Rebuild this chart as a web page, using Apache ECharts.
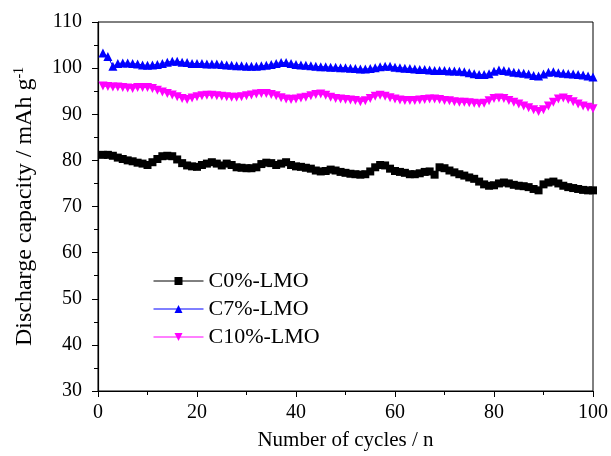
<!DOCTYPE html>
<html>
<head>
<meta charset="utf-8">
<script src="https://cdn.jsdelivr.net/npm/echarts@6/dist/echarts.min.js"></script>
<style>
  html, body { margin: 0; padding: 0; background: #fff; }
  #chart { width: 611px; height: 456px; }
</style>
</head>
<body>
<div id="chart"></div>
<script>
// discharge capacity (mAh/g) per cycle
const c0 = [
  81.2, 81.2, 81.0, 80.6, 80.3, 80.0, 79.8, 79.5, 79.3, 79.0,
  79.6, 80.3, 80.9, 81.0, 80.9, 80.2, 79.4, 78.9, 78.7, 78.6,
  79.0, 79.3, 79.6, 79.3, 78.9, 79.3, 79.0, 78.5, 78.4, 78.3,
  78.3, 78.5, 79.2, 79.5, 79.4, 79.0, 79.3, 79.6, 79.0, 78.7,
  78.6, 78.4, 78.2, 77.8, 77.6, 77.7, 78.0, 77.8, 77.5, 77.3,
  77.1, 77.0, 76.9, 77.0, 77.6, 78.5, 79.0, 78.9, 78.2, 77.7,
  77.5, 77.3, 77.0, 77.0, 77.2, 77.5, 77.6, 76.9, 78.5, 78.3,
  77.8, 77.4, 77.0, 76.7, 76.3, 76.0, 75.4, 74.8, 74.5, 74.6,
  75.0, 75.2, 75.0, 74.7, 74.5, 74.4, 74.2, 73.8, 73.5, 74.8,
  75.2, 75.4, 75.0, 74.5, 74.2, 74.0, 73.8, 73.6, 73.5, 73.5
];
const c7 = [
  103.3, 102.5, 100.4, 101.0, 101.1, 101.1, 101.0, 100.9, 100.7, 100.6,
  100.7, 100.8, 101.0, 101.3, 101.5, 101.5, 101.3, 101.2, 101.0, 101.0,
  101.0, 100.9, 100.9, 100.9, 100.8, 100.7, 100.6, 100.5, 100.5, 100.4,
  100.4, 100.4, 100.5, 100.6, 100.8, 101.0, 101.2, 101.2, 101.0, 100.8,
  100.7, 100.6, 100.5, 100.4, 100.3, 100.3, 100.2, 100.2, 100.1, 100.1,
  100.0, 99.9, 99.8, 99.8, 99.9, 100.1, 100.3, 100.4, 100.4, 100.2,
  100.1, 100.0, 99.9, 99.8, 99.7, 99.7, 99.6, 99.5, 99.5, 99.5,
  99.4, 99.4, 99.3, 99.2, 99.0, 98.8, 98.6, 98.6, 98.8, 99.3,
  99.6, 99.5, 99.3, 99.1, 99.0, 98.9, 98.7, 98.4, 98.3, 98.7,
  99.1, 99.2, 99.0, 98.9, 98.8, 98.7, 98.6, 98.5, 98.3, 98.1
];
const c10 = [
  96.1, 96.0, 95.9, 95.9, 95.8, 95.7, 95.6, 95.8, 95.8, 95.8,
  95.6, 95.2, 94.8, 94.5, 94.2, 93.8, 93.4, 93.2, 93.5, 93.8,
  94.0, 94.1, 94.1, 94.0, 93.9, 93.8, 93.7, 93.7, 93.8, 94.0,
  94.2, 94.4, 94.5, 94.5, 94.3, 94.0, 93.6, 93.3, 93.2, 93.3,
  93.5, 93.7, 94.0, 94.3, 94.4, 94.1, 93.7, 93.4, 93.3, 93.2,
  93.1, 93.0, 92.7, 92.9, 93.4, 93.9, 94.1, 93.9, 93.6, 93.3,
  93.1, 93.0, 93.0, 93.0, 93.1, 93.2, 93.3, 93.3, 93.2, 93.0,
  92.9, 92.7, 92.6, 92.6, 92.5, 92.4, 92.3, 92.4, 92.9, 93.4,
  93.5, 93.4, 93.0, 92.6, 92.2, 91.8, 91.4, 91.0, 90.6, 91.0,
  91.8, 92.6, 93.3, 93.5, 93.2, 92.7, 92.2, 91.8, 91.5, 91.2
];
const names = ['C0%-LMO', 'C7%-LMO', 'C10%-LMO'];
const cycles = c0.map((v, i) => i + 1);

const font = 'Liberation Serif';
const pairs = arr => arr.map((v, i) => [cycles[i], v]);

let myChart = echarts.init(document.getElementById('chart'));
myChart.setOption({
  animation: false,
  grid: {
    left: 98, right: 14, top: 22, bottom: 61,
    show: true, borderColor: '#000', borderWidth: 1
  },
  legend: {
    left: 148, top: 265,
    orient: 'vertical',
    itemWidth: 50, itemHeight: 10, itemGap: 6,
    lineStyle: { width: 1 },
    textStyle: { fontFamily: font, fontSize: 22, color: '#000' },
    data: names
  },
  xAxis: {
    type: 'value',
    min: 0, max: 100, interval: 20,
    name: 'Number of cycles / n',
    nameLocation: 'middle', nameGap: 39,
    nameTextStyle: { fontFamily: font, fontSize: 21, color: '#000' },
    axisLine: { lineStyle: { color: '#000', width: 1.2 } },
    axisTick: { inside: false, length: 6, lineStyle: { color: '#000' } },
    minorTick: { show: true, splitNumber: 2, length: 4, lineStyle: { color: '#000' } },
    axisLabel: { fontFamily: font, fontSize: 20, color: '#000', margin: 12 },
    splitLine: { show: false }
  },
  yAxis: {
    type: 'value',
    min: 30, max: 110, interval: 10,
    name: 'Discharge capacity / mAh g{sup|-1}',
    nameLocation: 'middle', nameGap: 60,
    nameTextStyle: {
      fontFamily: font, fontSize: 24, color: '#000',
      rich: { sup: { fontFamily: font, fontSize: 14, color: '#000', verticalAlign: 'top', padding: [0, 0, 12, 0] } }
    },
    axisLine: { lineStyle: { color: '#000', width: 1.2 } },
    axisTick: { inside: false, length: 6, lineStyle: { color: '#000' } },
    minorTick: { show: true, splitNumber: 2, length: 4, lineStyle: { color: '#000' } },
    axisLabel: { fontFamily: font, fontSize: 20, color: '#000', margin: 16 },
    splitLine: { show: false }
  },
  series: [
    {
      name: names[0], type: 'line', data: pairs(c0),
      symbol: 'rect', symbolSize: 8,
      itemStyle: { color: '#000' },
      lineStyle: { color: '#000', width: 1 }
    },
    {
      name: names[1], type: 'line', data: pairs(c7),
      symbol: 'triangle', symbolSize: 9,
      itemStyle: { color: '#0000ff' },
      lineStyle: { color: '#0000ff', width: 1 }
    },
    {
      name: names[2], type: 'line', data: pairs(c10),
      symbol: 'triangle', symbolRotate: 180, symbolSize: 9,
      itemStyle: { color: '#ff00ff' },
      lineStyle: { color: '#ff00ff', width: 1 }
    }
  ]
});
</script>
</body>
</html>
